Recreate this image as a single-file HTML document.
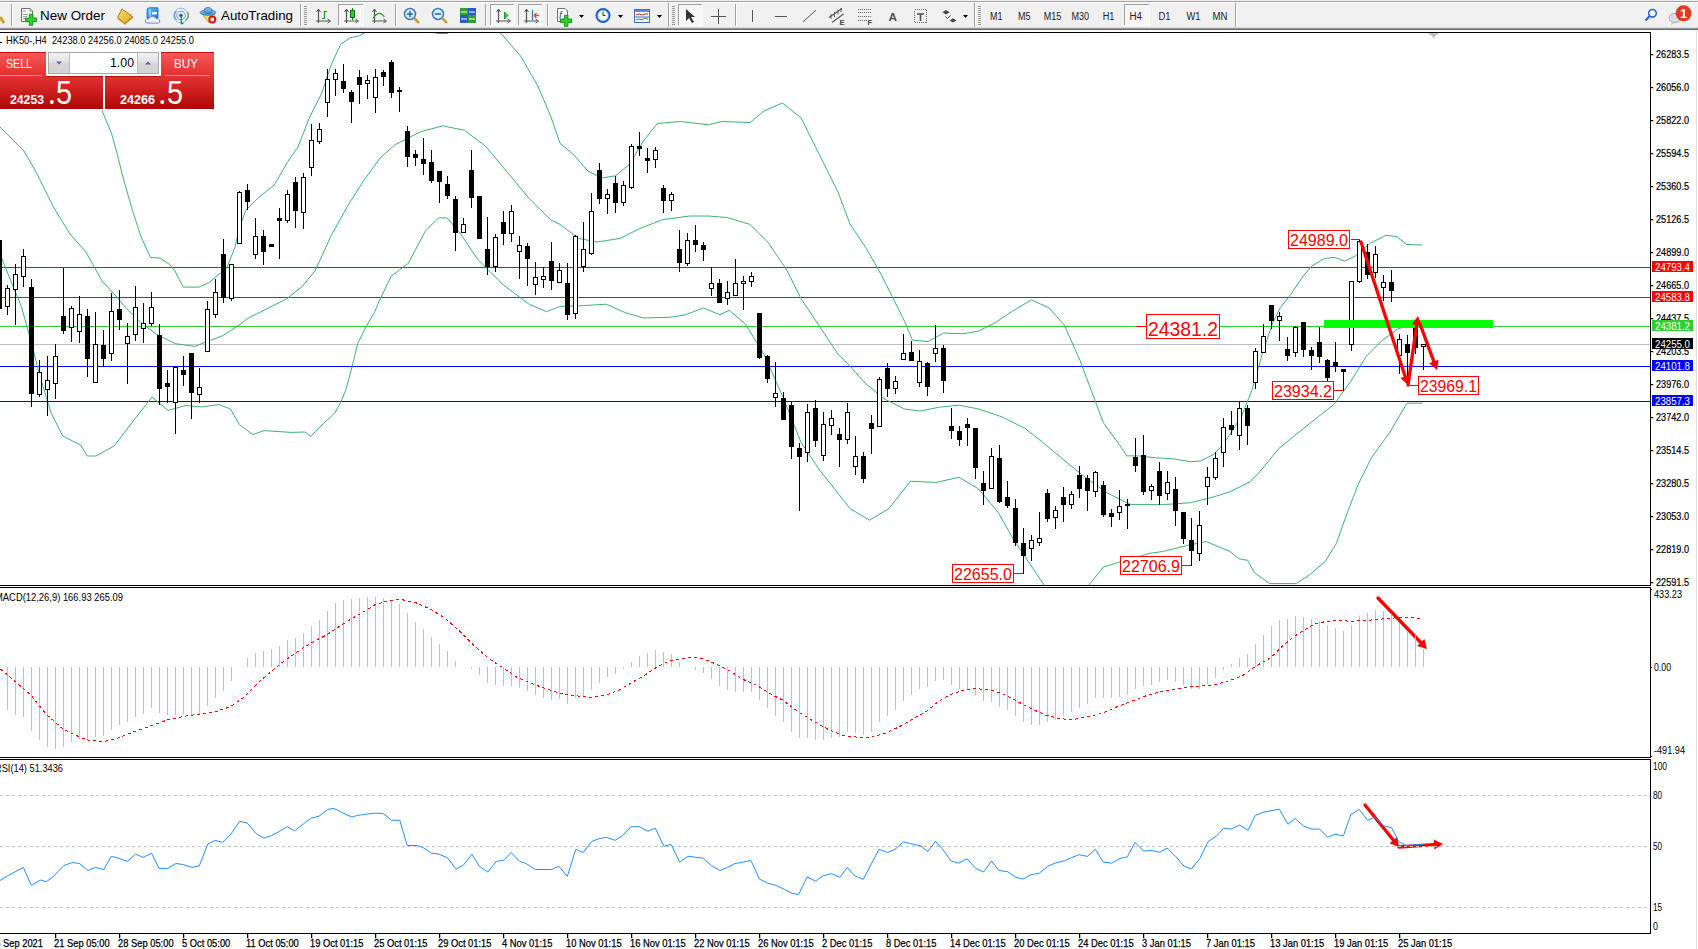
<!DOCTYPE html>
<html><head><meta charset="utf-8"><title>HK50 H4</title>
<style>
html,body{margin:0;padding:0;background:#fff;}
body{width:1698px;height:949px;overflow:hidden;position:relative;font-family:"Liberation Sans",sans-serif;}
svg text{font-family:"Liberation Sans",sans-serif;}
</style></head><body>
<svg id="ch" width="1698" height="949" viewBox="0 0 1698 949" style="position:absolute;left:0;top:0" shape-rendering="crispEdges">
<rect x="0" y="30" width="1698" height="919" fill="#fff"/>
<rect x="1696" y="30" width="1" height="919" fill="#e0e0e0"/>
<g fill="#000">
<rect x="0" y="32" width="1651" height="1"/>
<rect x="1650" y="32" width="1" height="554"/>
<rect x="0" y="585" width="1651" height="1"/>
<rect x="0" y="587" width="1651" height="1"/>
<rect x="1650" y="587" width="1" height="171"/>
<rect x="0" y="757" width="1651" height="1"/>
<rect x="0" y="759" width="1651" height="1"/>
<rect x="1650" y="759" width="1" height="175"/>
<rect x="0" y="933" width="1651" height="1"/>
</g>
<g fill="#000" font-family="Liberation Sans, sans-serif" font-size="10" stroke="#000" stroke-width="0.2">
<rect x="1651" y="54" width="2" height="1"/>
<text x="1656" y="58" textLength="33" lengthAdjust="spacingAndGlyphs">26283.5</text>
<rect x="1651" y="87" width="2" height="1"/>
<text x="1656" y="91" textLength="33" lengthAdjust="spacingAndGlyphs">26056.0</text>
<rect x="1651" y="120" width="2" height="1"/>
<text x="1656" y="124" textLength="33" lengthAdjust="spacingAndGlyphs">25822.0</text>
<rect x="1651" y="153" width="2" height="1"/>
<text x="1656" y="157" textLength="33" lengthAdjust="spacingAndGlyphs">25594.5</text>
<rect x="1651" y="186" width="2" height="1"/>
<text x="1656" y="190" textLength="33" lengthAdjust="spacingAndGlyphs">25360.5</text>
<rect x="1651" y="219" width="2" height="1"/>
<text x="1656" y="223" textLength="33" lengthAdjust="spacingAndGlyphs">25126.5</text>
<rect x="1651" y="252" width="2" height="1"/>
<text x="1656" y="256" textLength="33" lengthAdjust="spacingAndGlyphs">24899.0</text>
<rect x="1651" y="285" width="2" height="1"/>
<text x="1656" y="289" textLength="33" lengthAdjust="spacingAndGlyphs">24665.0</text>
<rect x="1651" y="318" width="2" height="1"/>
<text x="1656" y="322" textLength="33" lengthAdjust="spacingAndGlyphs">24437.5</text>
<rect x="1651" y="351" width="2" height="1"/>
<text x="1656" y="355" textLength="33" lengthAdjust="spacingAndGlyphs">24203.5</text>
<rect x="1651" y="384" width="2" height="1"/>
<text x="1656" y="388" textLength="33" lengthAdjust="spacingAndGlyphs">23976.0</text>
<rect x="1651" y="417" width="2" height="1"/>
<text x="1656" y="421" textLength="33" lengthAdjust="spacingAndGlyphs">23742.0</text>
<rect x="1651" y="450" width="2" height="1"/>
<text x="1656" y="454" textLength="33" lengthAdjust="spacingAndGlyphs">23514.5</text>
<rect x="1651" y="483" width="2" height="1"/>
<text x="1656" y="487" textLength="33" lengthAdjust="spacingAndGlyphs">23280.5</text>
<rect x="1651" y="516" width="2" height="1"/>
<text x="1656" y="520" textLength="33" lengthAdjust="spacingAndGlyphs">23053.0</text>
<rect x="1651" y="549" width="2" height="1"/>
<text x="1656" y="553" textLength="33" lengthAdjust="spacingAndGlyphs">22819.0</text>
<rect x="1651" y="582" width="2" height="1"/>
<text x="1656" y="586" textLength="33" lengthAdjust="spacingAndGlyphs">22591.5</text>
</g>
<rect x="0" y="267" width="1650" height="1" fill="#ff0000"/>
<rect x="0" y="297" width="1650" height="1" fill="#ff0000"/>
<rect x="0" y="326" width="1650" height="1" fill="#32cd32"/>
<rect x="0" y="344" width="1650" height="1" fill="#c0c0c0"/>
<rect x="0" y="366" width="1650" height="1" fill="#0000ff"/>
<rect x="0" y="401" width="1650" height="1" fill="#0000ff"/>
<rect x="1652" y="261" width="41" height="11" fill="#ff0000"/>
<text x="1655" y="271" fill="#fff" font-family="Liberation Sans, sans-serif" font-size="10.5" textLength="35" lengthAdjust="spacingAndGlyphs">24793.4</text>
<rect x="1652" y="291" width="41" height="11" fill="#ff0000"/>
<text x="1655" y="301" fill="#fff" font-family="Liberation Sans, sans-serif" font-size="10.5" textLength="35" lengthAdjust="spacingAndGlyphs">24583.8</text>
<rect x="1652" y="320" width="41" height="11" fill="#32cd32"/>
<text x="1655" y="330" fill="#fff" font-family="Liberation Sans, sans-serif" font-size="10.5" textLength="35" lengthAdjust="spacingAndGlyphs">24381.2</text>
<rect x="1652" y="338" width="41" height="11" fill="#000"/>
<text x="1655" y="348" fill="#fff" font-family="Liberation Sans, sans-serif" font-size="10.5" textLength="35" lengthAdjust="spacingAndGlyphs">24255.0</text>
<rect x="1652" y="360" width="41" height="11" fill="#0000ff"/>
<text x="1655" y="370" fill="#fff" font-family="Liberation Sans, sans-serif" font-size="10.5" textLength="35" lengthAdjust="spacingAndGlyphs">24101.8</text>
<rect x="1652" y="395" width="41" height="11" fill="#0000ff"/>
<text x="1655" y="405" fill="#fff" font-family="Liberation Sans, sans-serif" font-size="10.5" textLength="35" lengthAdjust="spacingAndGlyphs">23857.3</text>
<defs><clipPath id="mc"><rect x="0" y="33" width="1650" height="552"/></clipPath></defs>
<g fill="none" stroke="#3cb371" stroke-width="1" shape-rendering="auto" clip-path="url(#mc)">
<polyline points="102,110.5 111.6,133.7 116.9,152.7 123.2,178 131.6,207.5 141.1,237 150.6,257.6 160,258 169.5,264.4 174.8,270.7 183.2,287.1 199,287.1 209.6,282.3 218,275 226.4,268.6 234.9,247.5 239.5,228 245.8,210.2 258.5,197.6 274.3,185 287,162.8 298,147 309,118.5 321.7,93.2 331.2,64.8 340.7,44.2 350.1,37.9 359.6,35.7 366,31.6 370,30 430,30 436.3,33.5 447,33.5 455,30 495,30 501,33.5 520.6,56 537.9,86 550.8,116.4 560,143.3 573.9,155 587.8,171 601.7,178 615.6,175.8 629.5,164.2 643.4,141 657.4,123.4 680.5,121.5 708.4,124.8 722.3,121.5 750,122.5 764,111 782.5,103 801,117.8 819.6,155 838,192 850,224 865.6,247.3 881.2,274.6 892.9,298 904.6,321.4 912.4,340 928,341.6 943.6,333 963,333.8 978.7,331 994.2,323.3 1013.7,310.4 1031.3,300 1048.8,307.7 1064.4,325.3 1080,360.4 1091.7,391.5 1103.4,422.7 1119,444.2 1126.8,455.9 1138.5,455.9 1155.6,457.8 1171.2,458.6 1190.7,461.7 1200.3,461.1 1213.2,454.7 1223.5,444.4 1241.6,416 1251.9,390.2 1262.3,354 1272.6,323 1280.3,307.6 1290.6,294.7 1301,279.2 1311.3,266.3 1324.2,258.5 1334.5,257.3 1344.8,261.1 1355.2,256 1370.6,243.1 1386.1,235.3 1396.5,236.6 1406.8,244.4 1422.3,245.1"/>
<polyline points="0,127 19,146 24,151 36,172 54,208 70,234 86,252 102,281 116,296 124.8,306.6 140.4,322 156,334 175.4,343.7 195,346.4 206.6,341.7 222,336 237.8,326 249,317.7 268,308.2 286.9,298.7 302.7,286 315.4,270.3 331.2,235.5 347,207 362.8,181.8 380.2,158 395.3,144.5 421.2,131.5 442.8,125.9 464.4,130.2 486,146.6 507.6,172.6 529.2,198.5 550.8,220 560,224.4 578.5,238.4 597,242 620.3,238.4 638.8,229 662,219.8 689.8,216 708.4,216 726.9,217.5 750,224.4 768.6,243 787.2,270.8 801,298.6 819.6,326.4 838,354.3 850,366.2 865.6,383.7 885,399.3 904.6,409 920.2,411 939.7,407.1 959.2,405.2 978.7,409 1002,416.9 1025.4,428.6 1045,444.2 1068.3,463.7 1087.8,479.3 1107.3,493 1130.7,504.6 1163.4,504.6 1190.7,502.7 1214,496.8 1230,491.8 1249.9,481.8 1258.8,473 1278.7,448.6 1296.4,434.2 1318.5,416.5 1334,404.3 1351.7,380 1366.1,356.5 1381.7,340.9 1397.3,329.2 1409,325.3 1422.6,325"/>
<polyline points="0,254 11.7,283 21.4,306.6 31.2,341.7 39,373 50.7,412 62.7,436 80.6,445 87.3,456 96,456 114,446 134,420 152,397 168,410.4 185.8,405.5 201.4,407 219,404.6 230.5,409 239.5,424.8 253,434.6 264,430.6 291,432.4 304.7,432 311,436.3 315.8,431.2 323.7,423.3 334.8,413 341.1,401.2 345.8,390.1 352.2,366.4 357.7,343.5 359.3,340.3 366.4,326.1 374.3,312.6 379.8,300 391,276.3 408.3,263.3 425.5,230.9 438.5,217.9 447.1,217.9 460,233 477.4,259 503.3,284.9 529.2,304.3 546.5,311.7 559.5,306.5 583.2,305.6 606.4,304.2 625,312.5 643.4,318 671.3,317.2 685.2,314.8 703.7,308 720,314.8 729.2,310.2 745.4,324 764,354.3 782.5,396 801,442.3 819.6,470 838,493.3 850,508.5 869.5,520.2 889,508.5 910.4,481.2 935.8,482.4 959.2,477.3 978.7,489 998.1,512.4 1013.7,539.7 1029.3,563 1045,586.5 1087.8,586.5 1103.4,567 1123,561.1 1149.8,553.3 1163.4,551.4 1186.8,545.5 1206.3,541.6 1230,551.5 1238.9,558.8 1247.7,560.3 1254.3,572.5 1269.8,583.6 1296.4,583.6 1309.7,574.7 1325.2,561.5 1336.2,543.8 1347.3,512.8 1358.3,484 1371.6,457.5 1389.3,433.1 1407,403.2 1422.5,403.2"/>
</g>
<g>
<rect x="-1" y="240" width="1" height="69" fill="#000"/>
<rect x="-3" y="240" width="5" height="69" fill="#000"/>
<rect x="7" y="285" width="1" height="30" fill="#000"/>
<rect x="5" y="288" width="5" height="19" fill="#000"/>
<rect x="6" y="289" width="3" height="17" fill="#fff"/>
<rect x="15" y="264" width="1" height="61" fill="#000"/>
<rect x="13" y="274" width="5" height="16" fill="#000"/>
<rect x="14" y="275" width="3" height="14" fill="#fff"/>
<rect x="23" y="249" width="1" height="38" fill="#000"/>
<rect x="21" y="256" width="5" height="21" fill="#000"/>
<rect x="22" y="257" width="3" height="19" fill="#fff"/>
<rect x="31" y="279" width="1" height="128" fill="#000"/>
<rect x="29" y="287" width="5" height="107" fill="#000"/>
<rect x="39" y="360" width="1" height="37" fill="#000"/>
<rect x="37" y="372" width="5" height="23" fill="#000"/>
<rect x="38" y="373" width="3" height="21" fill="#fff"/>
<rect x="47" y="356" width="1" height="60" fill="#000"/>
<rect x="45" y="380" width="5" height="10" fill="#000"/>
<rect x="46" y="381" width="3" height="8" fill="#fff"/>
<rect x="55" y="344" width="1" height="55" fill="#000"/>
<rect x="53" y="356" width="5" height="28" fill="#000"/>
<rect x="54" y="357" width="3" height="26" fill="#fff"/>
<rect x="63" y="268" width="1" height="66" fill="#000"/>
<rect x="61" y="316" width="5" height="15" fill="#000"/>
<rect x="71" y="306" width="1" height="36" fill="#000"/>
<rect x="69" y="308" width="5" height="20" fill="#000"/>
<rect x="70" y="309" width="3" height="18" fill="#fff"/>
<rect x="79" y="296" width="1" height="47" fill="#000"/>
<rect x="77" y="314" width="5" height="18" fill="#000"/>
<rect x="78" y="315" width="3" height="16" fill="#fff"/>
<rect x="87" y="309" width="1" height="68" fill="#000"/>
<rect x="85" y="316" width="5" height="43" fill="#000"/>
<rect x="95" y="312" width="1" height="71" fill="#000"/>
<rect x="93" y="344" width="5" height="39" fill="#000"/>
<rect x="94" y="345" width="3" height="37" fill="#fff"/>
<rect x="103" y="330" width="1" height="37" fill="#000"/>
<rect x="101" y="345" width="5" height="14" fill="#000"/>
<rect x="111" y="293" width="1" height="68" fill="#000"/>
<rect x="109" y="311" width="5" height="43" fill="#000"/>
<rect x="110" y="312" width="3" height="41" fill="#fff"/>
<rect x="119" y="290" width="1" height="40" fill="#000"/>
<rect x="117" y="309" width="5" height="11" fill="#000"/>
<rect x="127" y="323" width="1" height="61" fill="#000"/>
<rect x="125" y="336" width="5" height="8" fill="#000"/>
<rect x="126" y="337" width="3" height="6" fill="#fff"/>
<rect x="135" y="286" width="1" height="55" fill="#000"/>
<rect x="133" y="307" width="5" height="28" fill="#000"/>
<rect x="134" y="308" width="3" height="26" fill="#fff"/>
<rect x="143" y="303" width="1" height="40" fill="#000"/>
<rect x="141" y="323" width="5" height="6" fill="#000"/>
<rect x="142" y="324" width="3" height="4" fill="#fff"/>
<rect x="151" y="292" width="1" height="34" fill="#000"/>
<rect x="149" y="307" width="5" height="17" fill="#000"/>
<rect x="150" y="308" width="3" height="15" fill="#fff"/>
<rect x="159" y="324" width="1" height="81" fill="#000"/>
<rect x="157" y="335" width="5" height="54" fill="#000"/>
<rect x="167" y="370" width="1" height="33" fill="#000"/>
<rect x="165" y="383" width="5" height="4" fill="#000"/>
<rect x="175" y="366" width="1" height="68" fill="#000"/>
<rect x="173" y="367" width="5" height="36" fill="#000"/>
<rect x="174" y="368" width="3" height="34" fill="#fff"/>
<rect x="183" y="356" width="1" height="30" fill="#000"/>
<rect x="181" y="370" width="5" height="5" fill="#000"/>
<rect x="191" y="353" width="1" height="66" fill="#000"/>
<rect x="189" y="353" width="5" height="40" fill="#000"/>
<rect x="199" y="368" width="1" height="35" fill="#000"/>
<rect x="197" y="387" width="5" height="8" fill="#000"/>
<rect x="198" y="388" width="3" height="6" fill="#fff"/>
<rect x="207" y="301" width="1" height="51" fill="#000"/>
<rect x="205" y="309" width="5" height="43" fill="#000"/>
<rect x="206" y="310" width="3" height="41" fill="#fff"/>
<rect x="215" y="279" width="1" height="39" fill="#000"/>
<rect x="213" y="292" width="5" height="23" fill="#000"/>
<rect x="214" y="293" width="3" height="21" fill="#fff"/>
<rect x="223" y="239" width="1" height="64" fill="#000"/>
<rect x="221" y="254" width="5" height="44" fill="#000"/>
<rect x="231" y="264" width="1" height="37" fill="#000"/>
<rect x="229" y="264" width="5" height="35" fill="#000"/>
<rect x="230" y="265" width="3" height="33" fill="#fff"/>
<rect x="239" y="191" width="1" height="53" fill="#000"/>
<rect x="237" y="192" width="5" height="52" fill="#000"/>
<rect x="238" y="193" width="3" height="50" fill="#fff"/>
<rect x="247" y="184" width="1" height="26" fill="#000"/>
<rect x="245" y="190" width="5" height="12" fill="#000"/>
<rect x="255" y="218" width="1" height="41" fill="#000"/>
<rect x="253" y="236" width="5" height="19" fill="#000"/>
<rect x="254" y="237" width="3" height="17" fill="#fff"/>
<rect x="263" y="230" width="1" height="35" fill="#000"/>
<rect x="261" y="236" width="5" height="16" fill="#000"/>
<rect x="271" y="244" width="1" height="3" fill="#000"/>
<rect x="269" y="244" width="5" height="3" fill="#000"/>
<rect x="279" y="208" width="1" height="51" fill="#000"/>
<rect x="277" y="218" width="5" height="3" fill="#000"/>
<rect x="287" y="190" width="1" height="33" fill="#000"/>
<rect x="285" y="194" width="5" height="27" fill="#000"/>
<rect x="286" y="195" width="3" height="25" fill="#fff"/>
<rect x="295" y="177" width="1" height="51" fill="#000"/>
<rect x="293" y="182" width="5" height="29" fill="#000"/>
<rect x="303" y="173" width="1" height="56" fill="#000"/>
<rect x="301" y="177" width="5" height="36" fill="#000"/>
<rect x="302" y="178" width="3" height="34" fill="#fff"/>
<rect x="311" y="124" width="1" height="52" fill="#000"/>
<rect x="309" y="140" width="5" height="28" fill="#000"/>
<rect x="310" y="141" width="3" height="26" fill="#fff"/>
<rect x="319" y="123" width="1" height="21" fill="#000"/>
<rect x="317" y="129" width="5" height="13" fill="#000"/>
<rect x="318" y="130" width="3" height="11" fill="#fff"/>
<rect x="327" y="69" width="1" height="48" fill="#000"/>
<rect x="325" y="79" width="5" height="24" fill="#000"/>
<rect x="326" y="80" width="3" height="22" fill="#fff"/>
<rect x="335" y="69" width="1" height="27" fill="#000"/>
<rect x="333" y="73" width="5" height="7" fill="#000"/>
<rect x="334" y="74" width="3" height="5" fill="#fff"/>
<rect x="343" y="64" width="1" height="29" fill="#000"/>
<rect x="341" y="81" width="5" height="8" fill="#000"/>
<rect x="351" y="90" width="1" height="33" fill="#000"/>
<rect x="349" y="92" width="5" height="10" fill="#000"/>
<rect x="359" y="70" width="1" height="34" fill="#000"/>
<rect x="357" y="77" width="5" height="8" fill="#000"/>
<rect x="367" y="75" width="1" height="24" fill="#000"/>
<rect x="365" y="80" width="5" height="4" fill="#000"/>
<rect x="366" y="81" width="3" height="2" fill="#fff"/>
<rect x="375" y="69" width="1" height="44" fill="#000"/>
<rect x="373" y="77" width="5" height="21" fill="#000"/>
<rect x="374" y="78" width="3" height="19" fill="#fff"/>
<rect x="383" y="70" width="1" height="16" fill="#000"/>
<rect x="381" y="72" width="5" height="5" fill="#000"/>
<rect x="391" y="60" width="1" height="38" fill="#000"/>
<rect x="389" y="62" width="5" height="31" fill="#000"/>
<rect x="399" y="87" width="1" height="25" fill="#000"/>
<rect x="397" y="90" width="5" height="2" fill="#000"/>
<rect x="407" y="126" width="1" height="41" fill="#000"/>
<rect x="405" y="131" width="5" height="26" fill="#000"/>
<rect x="415" y="150" width="1" height="16" fill="#000"/>
<rect x="413" y="154" width="5" height="4" fill="#000"/>
<rect x="423" y="138" width="1" height="37" fill="#000"/>
<rect x="421" y="159" width="5" height="5" fill="#000"/>
<rect x="431" y="150" width="1" height="33" fill="#000"/>
<rect x="429" y="162" width="5" height="19" fill="#000"/>
<rect x="439" y="171" width="1" height="32" fill="#000"/>
<rect x="437" y="171" width="5" height="11" fill="#000"/>
<rect x="447" y="176" width="1" height="23" fill="#000"/>
<rect x="445" y="184" width="5" height="12" fill="#000"/>
<rect x="455" y="196" width="1" height="55" fill="#000"/>
<rect x="453" y="199" width="5" height="34" fill="#000"/>
<rect x="463" y="218" width="1" height="15" fill="#000"/>
<rect x="461" y="224" width="5" height="9" fill="#000"/>
<rect x="462" y="225" width="3" height="7" fill="#fff"/>
<rect x="471" y="150" width="1" height="58" fill="#000"/>
<rect x="469" y="170" width="5" height="28" fill="#000"/>
<rect x="479" y="196" width="1" height="43" fill="#000"/>
<rect x="477" y="196" width="5" height="43" fill="#000"/>
<rect x="487" y="217" width="1" height="58" fill="#000"/>
<rect x="485" y="249" width="5" height="18" fill="#000"/>
<rect x="495" y="234" width="1" height="38" fill="#000"/>
<rect x="493" y="237" width="5" height="30" fill="#000"/>
<rect x="494" y="238" width="3" height="28" fill="#fff"/>
<rect x="503" y="211" width="1" height="34" fill="#000"/>
<rect x="501" y="222" width="5" height="12" fill="#000"/>
<rect x="511" y="205" width="1" height="37" fill="#000"/>
<rect x="509" y="211" width="5" height="23" fill="#000"/>
<rect x="510" y="212" width="3" height="21" fill="#fff"/>
<rect x="519" y="236" width="1" height="43" fill="#000"/>
<rect x="517" y="245" width="5" height="7" fill="#000"/>
<rect x="518" y="246" width="3" height="5" fill="#fff"/>
<rect x="527" y="243" width="1" height="43" fill="#000"/>
<rect x="525" y="246" width="5" height="13" fill="#000"/>
<rect x="535" y="262" width="1" height="33" fill="#000"/>
<rect x="533" y="277" width="5" height="8" fill="#000"/>
<rect x="534" y="278" width="3" height="6" fill="#fff"/>
<rect x="543" y="267" width="1" height="21" fill="#000"/>
<rect x="541" y="276" width="5" height="4" fill="#000"/>
<rect x="542" y="277" width="3" height="2" fill="#fff"/>
<rect x="551" y="242" width="1" height="48" fill="#000"/>
<rect x="549" y="261" width="5" height="20" fill="#000"/>
<rect x="559" y="263" width="1" height="20" fill="#000"/>
<rect x="557" y="270" width="5" height="13" fill="#000"/>
<rect x="558" y="271" width="3" height="11" fill="#fff"/>
<rect x="567" y="263" width="1" height="57" fill="#000"/>
<rect x="565" y="283" width="5" height="32" fill="#000"/>
<rect x="575" y="235" width="1" height="84" fill="#000"/>
<rect x="573" y="236" width="5" height="78" fill="#000"/>
<rect x="574" y="237" width="3" height="76" fill="#fff"/>
<rect x="583" y="222" width="1" height="50" fill="#000"/>
<rect x="581" y="249" width="5" height="18" fill="#000"/>
<rect x="582" y="250" width="3" height="16" fill="#fff"/>
<rect x="591" y="193" width="1" height="62" fill="#000"/>
<rect x="589" y="211" width="5" height="43" fill="#000"/>
<rect x="590" y="212" width="3" height="41" fill="#fff"/>
<rect x="599" y="163" width="1" height="41" fill="#000"/>
<rect x="597" y="170" width="5" height="29" fill="#000"/>
<rect x="607" y="189" width="1" height="25" fill="#000"/>
<rect x="605" y="194" width="5" height="5" fill="#000"/>
<rect x="606" y="195" width="3" height="3" fill="#fff"/>
<rect x="615" y="176" width="1" height="37" fill="#000"/>
<rect x="613" y="183" width="5" height="20" fill="#000"/>
<rect x="623" y="181" width="1" height="25" fill="#000"/>
<rect x="621" y="185" width="5" height="18" fill="#000"/>
<rect x="622" y="186" width="3" height="16" fill="#fff"/>
<rect x="631" y="144" width="1" height="45" fill="#000"/>
<rect x="629" y="146" width="5" height="42" fill="#000"/>
<rect x="630" y="147" width="3" height="40" fill="#fff"/>
<rect x="639" y="132" width="1" height="24" fill="#000"/>
<rect x="637" y="146" width="5" height="3" fill="#000"/>
<rect x="647" y="148" width="1" height="25" fill="#000"/>
<rect x="645" y="158" width="5" height="3" fill="#000"/>
<rect x="655" y="147" width="1" height="21" fill="#000"/>
<rect x="653" y="150" width="5" height="10" fill="#000"/>
<rect x="654" y="151" width="3" height="8" fill="#fff"/>
<rect x="663" y="185" width="1" height="28" fill="#000"/>
<rect x="661" y="188" width="5" height="13" fill="#000"/>
<rect x="671" y="192" width="1" height="19" fill="#000"/>
<rect x="669" y="194" width="5" height="7" fill="#000"/>
<rect x="670" y="195" width="3" height="5" fill="#fff"/>
<rect x="679" y="230" width="1" height="42" fill="#000"/>
<rect x="677" y="249" width="5" height="14" fill="#000"/>
<rect x="687" y="233" width="1" height="33" fill="#000"/>
<rect x="685" y="240" width="5" height="24" fill="#000"/>
<rect x="686" y="241" width="3" height="22" fill="#fff"/>
<rect x="695" y="225" width="1" height="27" fill="#000"/>
<rect x="693" y="240" width="5" height="5" fill="#000"/>
<rect x="703" y="242" width="1" height="19" fill="#000"/>
<rect x="701" y="245" width="5" height="5" fill="#000"/>
<rect x="711" y="267" width="1" height="29" fill="#000"/>
<rect x="709" y="283" width="5" height="6" fill="#000"/>
<rect x="710" y="284" width="3" height="4" fill="#fff"/>
<rect x="719" y="279" width="1" height="24" fill="#000"/>
<rect x="717" y="283" width="5" height="20" fill="#000"/>
<rect x="727" y="281" width="1" height="24" fill="#000"/>
<rect x="725" y="292" width="5" height="7" fill="#000"/>
<rect x="726" y="293" width="3" height="5" fill="#fff"/>
<rect x="735" y="259" width="1" height="37" fill="#000"/>
<rect x="733" y="283" width="5" height="13" fill="#000"/>
<rect x="734" y="284" width="3" height="11" fill="#fff"/>
<rect x="743" y="276" width="1" height="34" fill="#000"/>
<rect x="741" y="281" width="5" height="3" fill="#000"/>
<rect x="742" y="282" width="3" height="1" fill="#fff"/>
<rect x="751" y="272" width="1" height="15" fill="#000"/>
<rect x="749" y="276" width="5" height="6" fill="#000"/>
<rect x="750" y="277" width="3" height="4" fill="#fff"/>
<rect x="759" y="313" width="1" height="46" fill="#000"/>
<rect x="757" y="313" width="5" height="45" fill="#000"/>
<rect x="767" y="355" width="1" height="28" fill="#000"/>
<rect x="765" y="356" width="5" height="23" fill="#000"/>
<rect x="775" y="362" width="1" height="45" fill="#000"/>
<rect x="773" y="393" width="5" height="5" fill="#000"/>
<rect x="774" y="394" width="3" height="3" fill="#fff"/>
<rect x="783" y="392" width="1" height="28" fill="#000"/>
<rect x="781" y="398" width="5" height="22" fill="#000"/>
<rect x="791" y="402" width="1" height="57" fill="#000"/>
<rect x="789" y="405" width="5" height="42" fill="#000"/>
<rect x="799" y="443" width="1" height="68" fill="#000"/>
<rect x="797" y="448" width="5" height="9" fill="#000"/>
<rect x="807" y="404" width="1" height="58" fill="#000"/>
<rect x="805" y="412" width="5" height="41" fill="#000"/>
<rect x="806" y="413" width="3" height="39" fill="#fff"/>
<rect x="815" y="400" width="1" height="47" fill="#000"/>
<rect x="813" y="408" width="5" height="33" fill="#000"/>
<rect x="823" y="412" width="1" height="49" fill="#000"/>
<rect x="821" y="424" width="5" height="32" fill="#000"/>
<rect x="822" y="425" width="3" height="30" fill="#fff"/>
<rect x="831" y="410" width="1" height="25" fill="#000"/>
<rect x="829" y="418" width="5" height="8" fill="#000"/>
<rect x="830" y="419" width="3" height="6" fill="#fff"/>
<rect x="839" y="428" width="1" height="39" fill="#000"/>
<rect x="837" y="434" width="5" height="6" fill="#000"/>
<rect x="847" y="403" width="1" height="41" fill="#000"/>
<rect x="845" y="412" width="5" height="28" fill="#000"/>
<rect x="846" y="413" width="3" height="26" fill="#fff"/>
<rect x="855" y="436" width="1" height="39" fill="#000"/>
<rect x="853" y="456" width="5" height="11" fill="#000"/>
<rect x="854" y="457" width="3" height="9" fill="#fff"/>
<rect x="863" y="452" width="1" height="31" fill="#000"/>
<rect x="861" y="456" width="5" height="23" fill="#000"/>
<rect x="871" y="415" width="1" height="39" fill="#000"/>
<rect x="869" y="423" width="5" height="6" fill="#000"/>
<rect x="879" y="377" width="1" height="50" fill="#000"/>
<rect x="877" y="379" width="5" height="48" fill="#000"/>
<rect x="878" y="380" width="3" height="46" fill="#fff"/>
<rect x="887" y="363" width="1" height="34" fill="#000"/>
<rect x="885" y="368" width="5" height="21" fill="#000"/>
<rect x="895" y="376" width="1" height="18" fill="#000"/>
<rect x="893" y="381" width="5" height="8" fill="#000"/>
<rect x="894" y="382" width="3" height="6" fill="#fff"/>
<rect x="903" y="334" width="1" height="26" fill="#000"/>
<rect x="901" y="353" width="5" height="7" fill="#000"/>
<rect x="902" y="354" width="3" height="5" fill="#fff"/>
<rect x="911" y="341" width="1" height="20" fill="#000"/>
<rect x="909" y="352" width="5" height="9" fill="#000"/>
<rect x="919" y="350" width="1" height="37" fill="#000"/>
<rect x="917" y="361" width="5" height="22" fill="#000"/>
<rect x="918" y="362" width="3" height="20" fill="#fff"/>
<rect x="927" y="362" width="1" height="34" fill="#000"/>
<rect x="925" y="363" width="5" height="24" fill="#000"/>
<rect x="935" y="325" width="1" height="37" fill="#000"/>
<rect x="933" y="348" width="5" height="6" fill="#000"/>
<rect x="934" y="349" width="3" height="4" fill="#fff"/>
<rect x="943" y="345" width="1" height="48" fill="#000"/>
<rect x="941" y="348" width="5" height="33" fill="#000"/>
<rect x="951" y="408" width="1" height="31" fill="#000"/>
<rect x="949" y="426" width="5" height="5" fill="#000"/>
<rect x="959" y="426" width="1" height="20" fill="#000"/>
<rect x="957" y="431" width="5" height="9" fill="#000"/>
<rect x="967" y="418" width="1" height="28" fill="#000"/>
<rect x="965" y="424" width="5" height="4" fill="#000"/>
<rect x="975" y="428" width="1" height="51" fill="#000"/>
<rect x="973" y="428" width="5" height="40" fill="#000"/>
<rect x="983" y="471" width="1" height="34" fill="#000"/>
<rect x="981" y="483" width="5" height="8" fill="#000"/>
<rect x="991" y="448" width="1" height="41" fill="#000"/>
<rect x="989" y="456" width="5" height="33" fill="#000"/>
<rect x="990" y="457" width="3" height="31" fill="#fff"/>
<rect x="999" y="445" width="1" height="58" fill="#000"/>
<rect x="997" y="458" width="5" height="44" fill="#000"/>
<rect x="1007" y="481" width="1" height="27" fill="#000"/>
<rect x="1005" y="497" width="5" height="9" fill="#000"/>
<rect x="1015" y="499" width="1" height="47" fill="#000"/>
<rect x="1013" y="508" width="5" height="35" fill="#000"/>
<rect x="1023" y="528" width="1" height="46" fill="#000"/>
<rect x="1021" y="543" width="5" height="13" fill="#000"/>
<rect x="1031" y="535" width="1" height="26" fill="#000"/>
<rect x="1029" y="540" width="5" height="9" fill="#000"/>
<rect x="1030" y="541" width="3" height="7" fill="#fff"/>
<rect x="1039" y="512" width="1" height="34" fill="#000"/>
<rect x="1037" y="538" width="5" height="5" fill="#000"/>
<rect x="1038" y="539" width="3" height="3" fill="#fff"/>
<rect x="1047" y="489" width="1" height="33" fill="#000"/>
<rect x="1045" y="493" width="5" height="26" fill="#000"/>
<rect x="1055" y="506" width="1" height="23" fill="#000"/>
<rect x="1053" y="510" width="5" height="8" fill="#000"/>
<rect x="1054" y="511" width="3" height="6" fill="#fff"/>
<rect x="1063" y="487" width="1" height="35" fill="#000"/>
<rect x="1061" y="497" width="5" height="8" fill="#000"/>
<rect x="1071" y="491" width="1" height="18" fill="#000"/>
<rect x="1069" y="494" width="5" height="11" fill="#000"/>
<rect x="1070" y="495" width="3" height="9" fill="#fff"/>
<rect x="1079" y="466" width="1" height="32" fill="#000"/>
<rect x="1077" y="475" width="5" height="14" fill="#000"/>
<rect x="1087" y="475" width="1" height="36" fill="#000"/>
<rect x="1085" y="478" width="5" height="13" fill="#000"/>
<rect x="1095" y="471" width="1" height="26" fill="#000"/>
<rect x="1093" y="472" width="5" height="20" fill="#000"/>
<rect x="1094" y="473" width="3" height="18" fill="#fff"/>
<rect x="1103" y="481" width="1" height="36" fill="#000"/>
<rect x="1101" y="485" width="5" height="30" fill="#000"/>
<rect x="1111" y="509" width="1" height="18" fill="#000"/>
<rect x="1109" y="513" width="5" height="4" fill="#000"/>
<rect x="1119" y="490" width="1" height="30" fill="#000"/>
<rect x="1117" y="506" width="5" height="7" fill="#000"/>
<rect x="1118" y="507" width="3" height="5" fill="#fff"/>
<rect x="1127" y="499" width="1" height="30" fill="#000"/>
<rect x="1125" y="504" width="5" height="2" fill="#000"/>
<rect x="1135" y="438" width="1" height="34" fill="#000"/>
<rect x="1133" y="457" width="5" height="9" fill="#000"/>
<rect x="1143" y="435" width="1" height="60" fill="#000"/>
<rect x="1141" y="455" width="5" height="37" fill="#000"/>
<rect x="1151" y="484" width="1" height="16" fill="#000"/>
<rect x="1149" y="486" width="5" height="5" fill="#000"/>
<rect x="1150" y="487" width="3" height="3" fill="#fff"/>
<rect x="1159" y="462" width="1" height="43" fill="#000"/>
<rect x="1157" y="471" width="5" height="25" fill="#000"/>
<rect x="1167" y="471" width="1" height="29" fill="#000"/>
<rect x="1165" y="482" width="5" height="12" fill="#000"/>
<rect x="1166" y="483" width="3" height="10" fill="#fff"/>
<rect x="1175" y="477" width="1" height="49" fill="#000"/>
<rect x="1173" y="489" width="5" height="22" fill="#000"/>
<rect x="1183" y="512" width="1" height="32" fill="#000"/>
<rect x="1181" y="512" width="5" height="27" fill="#000"/>
<rect x="1191" y="518" width="1" height="48" fill="#000"/>
<rect x="1189" y="540" width="5" height="11" fill="#000"/>
<rect x="1199" y="511" width="1" height="50" fill="#000"/>
<rect x="1197" y="525" width="5" height="29" fill="#000"/>
<rect x="1198" y="526" width="3" height="27" fill="#fff"/>
<rect x="1207" y="467" width="1" height="38" fill="#000"/>
<rect x="1205" y="477" width="5" height="10" fill="#000"/>
<rect x="1206" y="478" width="3" height="8" fill="#fff"/>
<rect x="1215" y="452" width="1" height="28" fill="#000"/>
<rect x="1213" y="458" width="5" height="20" fill="#000"/>
<rect x="1214" y="459" width="3" height="18" fill="#fff"/>
<rect x="1223" y="418" width="1" height="49" fill="#000"/>
<rect x="1221" y="427" width="5" height="26" fill="#000"/>
<rect x="1222" y="428" width="3" height="24" fill="#fff"/>
<rect x="1231" y="411" width="1" height="24" fill="#000"/>
<rect x="1229" y="425" width="5" height="5" fill="#000"/>
<rect x="1239" y="401" width="1" height="49" fill="#000"/>
<rect x="1237" y="408" width="5" height="28" fill="#000"/>
<rect x="1238" y="409" width="3" height="26" fill="#fff"/>
<rect x="1247" y="405" width="1" height="40" fill="#000"/>
<rect x="1245" y="408" width="5" height="18" fill="#000"/>
<rect x="1255" y="348" width="1" height="41" fill="#000"/>
<rect x="1253" y="351" width="5" height="32" fill="#000"/>
<rect x="1254" y="352" width="3" height="30" fill="#fff"/>
<rect x="1263" y="324" width="1" height="29" fill="#000"/>
<rect x="1261" y="336" width="5" height="17" fill="#000"/>
<rect x="1262" y="337" width="3" height="15" fill="#fff"/>
<rect x="1271" y="305" width="1" height="24" fill="#000"/>
<rect x="1269" y="305" width="5" height="16" fill="#000"/>
<rect x="1279" y="312" width="1" height="29" fill="#000"/>
<rect x="1277" y="316" width="5" height="5" fill="#000"/>
<rect x="1278" y="317" width="3" height="3" fill="#fff"/>
<rect x="1287" y="337" width="1" height="24" fill="#000"/>
<rect x="1285" y="349" width="5" height="7" fill="#000"/>
<rect x="1295" y="326" width="1" height="31" fill="#000"/>
<rect x="1293" y="327" width="5" height="26" fill="#000"/>
<rect x="1294" y="328" width="3" height="24" fill="#fff"/>
<rect x="1303" y="322" width="1" height="35" fill="#000"/>
<rect x="1301" y="322" width="5" height="28" fill="#000"/>
<rect x="1311" y="347" width="1" height="23" fill="#000"/>
<rect x="1309" y="350" width="5" height="6" fill="#000"/>
<rect x="1319" y="327" width="1" height="36" fill="#000"/>
<rect x="1317" y="342" width="5" height="15" fill="#000"/>
<rect x="1327" y="359" width="1" height="22" fill="#000"/>
<rect x="1325" y="360" width="5" height="18" fill="#000"/>
<rect x="1335" y="342" width="1" height="30" fill="#000"/>
<rect x="1333" y="362" width="5" height="5" fill="#000"/>
<rect x="1343" y="369" width="1" height="22" fill="#000"/>
<rect x="1341" y="369" width="5" height="3" fill="#000"/>
<rect x="1351" y="281" width="1" height="70" fill="#000"/>
<rect x="1349" y="281" width="5" height="64" fill="#000"/>
<rect x="1350" y="282" width="3" height="62" fill="#fff"/>
<rect x="1359" y="239" width="1" height="44" fill="#000"/>
<rect x="1357" y="241" width="5" height="41" fill="#000"/>
<rect x="1358" y="242" width="3" height="39" fill="#fff"/>
<rect x="1367" y="244" width="1" height="35" fill="#000"/>
<rect x="1365" y="252" width="5" height="23" fill="#000"/>
<rect x="1375" y="246" width="1" height="32" fill="#000"/>
<rect x="1373" y="254" width="5" height="19" fill="#000"/>
<rect x="1374" y="255" width="3" height="17" fill="#fff"/>
<rect x="1383" y="275" width="1" height="26" fill="#000"/>
<rect x="1381" y="282" width="5" height="6" fill="#000"/>
<rect x="1382" y="283" width="3" height="4" fill="#fff"/>
<rect x="1391" y="270" width="1" height="32" fill="#000"/>
<rect x="1389" y="282" width="5" height="9" fill="#000"/>
<rect x="1399" y="334" width="1" height="40" fill="#000"/>
<rect x="1397" y="339" width="5" height="17" fill="#000"/>
<rect x="1398" y="340" width="3" height="15" fill="#fff"/>
<rect x="1407" y="335" width="1" height="50" fill="#000"/>
<rect x="1405" y="344" width="5" height="9" fill="#000"/>
<rect x="1415" y="328" width="1" height="26" fill="#000"/>
<rect x="1413" y="328" width="5" height="20" fill="#000"/>
<rect x="1423" y="344" width="1" height="26" fill="#000"/>
<rect x="1421" y="344" width="5" height="3" fill="#000"/>
<rect x="1422" y="345" width="3" height="1" fill="#fff"/>
</g>
<rect x="1324" y="320" width="169" height="8" fill="#00ff00"/>
<rect x="1288.5" y="230.5" width="61" height="18" fill="#fff" stroke="#ff0000" stroke-width="1"/>
<polyline points="1350.5,239.5 1359.5,239.5" fill="none" stroke="#ff0000" stroke-width="1"/>
<text x="1319.0" y="246" text-anchor="middle" fill="#ff0000" font-family="Liberation Sans, sans-serif" font-size="16.5" textLength="58" lengthAdjust="spacingAndGlyphs">24989.0</text>
<rect x="1146.5" y="314.5" width="73" height="24" fill="#fff" stroke="#ff0000" stroke-width="1"/>
<polyline points="1136,326.5 1146,326.5" fill="none" stroke="#ff0000" stroke-width="1"/>
<text x="1183.0" y="336" text-anchor="middle" fill="#ff0000" font-family="Liberation Sans, sans-serif" font-size="21" textLength="70" lengthAdjust="spacingAndGlyphs">24381.2</text>
<rect x="1272.5" y="381.5" width="61" height="18" fill="#fff" stroke="#ff0000" stroke-width="1"/>
<polyline points="1334,390.5 1343,390.5" fill="none" stroke="#ff0000" stroke-width="1"/>
<text x="1303.0" y="397" text-anchor="middle" fill="#ff0000" font-family="Liberation Sans, sans-serif" font-size="16.5" textLength="58" lengthAdjust="spacingAndGlyphs">23934.2</text>
<rect x="1418.5" y="376.5" width="60" height="18" fill="#fff" stroke="#ff0000" stroke-width="1"/>
<polyline points="1409,385.5 1418,385.5" fill="none" stroke="#ff0000" stroke-width="1"/>
<text x="1448.5" y="392" text-anchor="middle" fill="#ff0000" font-family="Liberation Sans, sans-serif" font-size="16.5" textLength="57" lengthAdjust="spacingAndGlyphs">23969.1</text>
<rect x="952.5" y="564.5" width="61" height="18" fill="#fff" stroke="#ff0000" stroke-width="1"/>
<polyline points="1014,573.5 1023,573.5" fill="none" stroke="#ff0000" stroke-width="1"/>
<text x="983.0" y="580" text-anchor="middle" fill="#ff0000" font-family="Liberation Sans, sans-serif" font-size="16.5" textLength="58" lengthAdjust="spacingAndGlyphs">22655.0</text>
<rect x="1120.5" y="556.5" width="61" height="18" fill="#fff" stroke="#ff0000" stroke-width="1"/>
<polyline points="1182,565.5 1191,565.5" fill="none" stroke="#ff0000" stroke-width="1"/>
<text x="1151.0" y="572" text-anchor="middle" fill="#ff0000" font-family="Liberation Sans, sans-serif" font-size="16.5" textLength="58" lengthAdjust="spacingAndGlyphs">22706.9</text>
<g shape-rendering="auto">
<line x1="1361" y1="242" x2="1405.2" y2="376.4" stroke="#ff0000" stroke-width="3.3" stroke-linecap="round"/>
<polygon points="1408,385 1400.4,378 1409.9,374.9" fill="#ff0000"/>
<line x1="1408" y1="385" x2="1416.7" y2="324.9" stroke="#ff0000" stroke-width="3.3" stroke-linecap="round"/>
<polygon points="1418,316 1421.7,325.6 1411.8,324.2" fill="#ff0000"/>
<line x1="1420" y1="324" x2="1433.9" y2="361.6" stroke="#ff0000" stroke-width="3.3" stroke-linecap="round"/>
<polygon points="1437,370 1429.2,363.3 1438.6,359.8" fill="#ff0000"/>
<line x1="1378" y1="598" x2="1420.8" y2="642.5" stroke="#ff0000" stroke-width="3.3" stroke-linecap="round"/>
<polygon points="1427,649 1417.2,646 1424.4,639" fill="#ff0000"/>
<line x1="1365" y1="805" x2="1393.3" y2="840" stroke="#ff0000" stroke-width="3.3" stroke-linecap="round"/>
<polygon points="1399,847 1389.5,843.2 1397.2,836.9" fill="#ff0000"/>
<line x1="1399" y1="847" x2="1434" y2="844.6" stroke="#ff0000" stroke-width="3.3" stroke-linecap="round"/>
<polygon points="1443,844 1434.4,849.6 1433.7,839.6" fill="#ff0000"/>
</g>
<text xml:space="preserve" x="6" y="44" font-family="Liberation Sans, sans-serif" font-size="10.5" fill="#000" textLength="188" lengthAdjust="spacingAndGlyphs">HK50-,H4  24238.0 24256.0 24085.0 24255.0</text>
<rect x="0" y="42" width="2" height="1" fill="#000"/>
<polygon points="1429,33 1438,33 1433.5,38" fill="#c0c0c0"/>
<g fill="#c0c0c0">
<rect x="7" y="667" width="1" height="43"/>
<rect x="15" y="667" width="1" height="48"/>
<rect x="23" y="667" width="1" height="50"/>
<rect x="31" y="667" width="1" height="64"/>
<rect x="39" y="667" width="1" height="73"/>
<rect x="47" y="667" width="1" height="80"/>
<rect x="55" y="667" width="1" height="82"/>
<rect x="63" y="667" width="1" height="80"/>
<rect x="71" y="667" width="1" height="75"/>
<rect x="79" y="667" width="1" height="72"/>
<rect x="87" y="667" width="1" height="71"/>
<rect x="95" y="667" width="1" height="70"/>
<rect x="103" y="667" width="1" height="69"/>
<rect x="111" y="667" width="1" height="63"/>
<rect x="119" y="667" width="1" height="58"/>
<rect x="127" y="667" width="1" height="55"/>
<rect x="135" y="667" width="1" height="50"/>
<rect x="143" y="667" width="1" height="47"/>
<rect x="151" y="667" width="1" height="41"/>
<rect x="159" y="667" width="1" height="46"/>
<rect x="167" y="667" width="1" height="48"/>
<rect x="175" y="667" width="1" height="48"/>
<rect x="183" y="667" width="1" height="47"/>
<rect x="191" y="667" width="1" height="48"/>
<rect x="199" y="667" width="1" height="47"/>
<rect x="207" y="667" width="1" height="39"/>
<rect x="215" y="667" width="1" height="31"/>
<rect x="223" y="667" width="1" height="24"/>
<rect x="231" y="667" width="1" height="14"/>
<rect x="247" y="658" width="1" height="9"/>
<rect x="255" y="653" width="1" height="14"/>
<rect x="263" y="651" width="1" height="16"/>
<rect x="271" y="649" width="1" height="18"/>
<rect x="279" y="646" width="1" height="21"/>
<rect x="287" y="640" width="1" height="27"/>
<rect x="295" y="638" width="1" height="29"/>
<rect x="303" y="633" width="1" height="34"/>
<rect x="311" y="626" width="1" height="41"/>
<rect x="319" y="620" width="1" height="47"/>
<rect x="327" y="611" width="1" height="56"/>
<rect x="335" y="603" width="1" height="64"/>
<rect x="343" y="600" width="1" height="67"/>
<rect x="351" y="599" width="1" height="68"/>
<rect x="359" y="598" width="1" height="69"/>
<rect x="367" y="597" width="1" height="70"/>
<rect x="375" y="597" width="1" height="70"/>
<rect x="383" y="598" width="1" height="69"/>
<rect x="391" y="601" width="1" height="66"/>
<rect x="399" y="604" width="1" height="63"/>
<rect x="407" y="613" width="1" height="54"/>
<rect x="415" y="622" width="1" height="45"/>
<rect x="423" y="629" width="1" height="38"/>
<rect x="431" y="637" width="1" height="30"/>
<rect x="439" y="644" width="1" height="23"/>
<rect x="447" y="651" width="1" height="16"/>
<rect x="455" y="661" width="1" height="6"/>
<rect x="471" y="667" width="1" height="2"/>
<rect x="479" y="667" width="1" height="8"/>
<rect x="487" y="667" width="1" height="16"/>
<rect x="495" y="667" width="1" height="18"/>
<rect x="503" y="667" width="1" height="19"/>
<rect x="511" y="667" width="1" height="19"/>
<rect x="519" y="667" width="1" height="21"/>
<rect x="527" y="667" width="1" height="24"/>
<rect x="535" y="667" width="1" height="28"/>
<rect x="543" y="667" width="1" height="31"/>
<rect x="551" y="667" width="1" height="33"/>
<rect x="559" y="667" width="1" height="32"/>
<rect x="567" y="667" width="1" height="37"/>
<rect x="575" y="667" width="1" height="31"/>
<rect x="583" y="667" width="1" height="29"/>
<rect x="591" y="667" width="1" height="23"/>
<rect x="599" y="667" width="1" height="16"/>
<rect x="607" y="667" width="1" height="10"/>
<rect x="615" y="667" width="1" height="7"/>
<rect x="623" y="667" width="1" height="2"/>
<rect x="631" y="662" width="1" height="5"/>
<rect x="639" y="656" width="1" height="11"/>
<rect x="647" y="653" width="1" height="14"/>
<rect x="655" y="650" width="1" height="17"/>
<rect x="663" y="652" width="1" height="15"/>
<rect x="671" y="654" width="1" height="13"/>
<rect x="679" y="662" width="1" height="5"/>
<rect x="695" y="667" width="1" height="3"/>
<rect x="703" y="667" width="1" height="6"/>
<rect x="711" y="667" width="1" height="12"/>
<rect x="719" y="667" width="1" height="19"/>
<rect x="727" y="667" width="1" height="23"/>
<rect x="735" y="667" width="1" height="25"/>
<rect x="743" y="667" width="1" height="25"/>
<rect x="751" y="667" width="1" height="25"/>
<rect x="759" y="667" width="1" height="33"/>
<rect x="767" y="667" width="1" height="41"/>
<rect x="775" y="667" width="1" height="49"/>
<rect x="783" y="667" width="1" height="55"/>
<rect x="791" y="667" width="1" height="65"/>
<rect x="799" y="667" width="1" height="71"/>
<rect x="807" y="667" width="1" height="71"/>
<rect x="815" y="667" width="1" height="73"/>
<rect x="823" y="667" width="1" height="73"/>
<rect x="831" y="667" width="1" height="71"/>
<rect x="839" y="667" width="1" height="70"/>
<rect x="847" y="667" width="1" height="65"/>
<rect x="855" y="667" width="1" height="66"/>
<rect x="863" y="667" width="1" height="68"/>
<rect x="871" y="667" width="1" height="65"/>
<rect x="879" y="667" width="1" height="55"/>
<rect x="887" y="667" width="1" height="49"/>
<rect x="895" y="667" width="1" height="43"/>
<rect x="903" y="667" width="1" height="34"/>
<rect x="911" y="667" width="1" height="28"/>
<rect x="919" y="667" width="1" height="22"/>
<rect x="927" y="667" width="1" height="20"/>
<rect x="935" y="667" width="1" height="14"/>
<rect x="943" y="667" width="1" height="13"/>
<rect x="951" y="667" width="1" height="18"/>
<rect x="959" y="667" width="1" height="22"/>
<rect x="967" y="667" width="1" height="23"/>
<rect x="975" y="667" width="1" height="28"/>
<rect x="983" y="667" width="1" height="34"/>
<rect x="991" y="667" width="1" height="35"/>
<rect x="999" y="667" width="1" height="40"/>
<rect x="1007" y="667" width="1" height="43"/>
<rect x="1015" y="667" width="1" height="49"/>
<rect x="1023" y="667" width="1" height="55"/>
<rect x="1031" y="667" width="1" height="58"/>
<rect x="1039" y="667" width="1" height="58"/>
<rect x="1047" y="667" width="1" height="55"/>
<rect x="1055" y="667" width="1" height="53"/>
<rect x="1063" y="667" width="1" height="49"/>
<rect x="1071" y="667" width="1" height="45"/>
<rect x="1079" y="667" width="1" height="41"/>
<rect x="1087" y="667" width="1" height="37"/>
<rect x="1095" y="667" width="1" height="31"/>
<rect x="1103" y="667" width="1" height="31"/>
<rect x="1111" y="667" width="1" height="31"/>
<rect x="1119" y="667" width="1" height="30"/>
<rect x="1127" y="667" width="1" height="28"/>
<rect x="1135" y="667" width="1" height="22"/>
<rect x="1143" y="667" width="1" height="19"/>
<rect x="1151" y="667" width="1" height="18"/>
<rect x="1159" y="667" width="1" height="15"/>
<rect x="1167" y="667" width="1" height="13"/>
<rect x="1175" y="667" width="1" height="15"/>
<rect x="1183" y="667" width="1" height="18"/>
<rect x="1191" y="667" width="1" height="22"/>
<rect x="1199" y="667" width="1" height="22"/>
<rect x="1207" y="667" width="1" height="17"/>
<rect x="1215" y="667" width="1" height="11"/>
<rect x="1223" y="667" width="1" height="3"/>
<rect x="1231" y="664" width="1" height="3"/>
<rect x="1239" y="658" width="1" height="9"/>
<rect x="1247" y="654" width="1" height="13"/>
<rect x="1255" y="644" width="1" height="23"/>
<rect x="1263" y="635" width="1" height="32"/>
<rect x="1271" y="626" width="1" height="41"/>
<rect x="1279" y="620" width="1" height="47"/>
<rect x="1287" y="619" width="1" height="48"/>
<rect x="1295" y="616" width="1" height="51"/>
<rect x="1303" y="617" width="1" height="50"/>
<rect x="1311" y="619" width="1" height="48"/>
<rect x="1319" y="621" width="1" height="46"/>
<rect x="1327" y="625" width="1" height="42"/>
<rect x="1335" y="628" width="1" height="39"/>
<rect x="1343" y="631" width="1" height="36"/>
<rect x="1351" y="625" width="1" height="42"/>
<rect x="1359" y="616" width="1" height="51"/>
<rect x="1367" y="613" width="1" height="54"/>
<rect x="1375" y="610" width="1" height="57"/>
<rect x="1383" y="611" width="1" height="56"/>
<rect x="1391" y="614" width="1" height="53"/>
<rect x="1399" y="623" width="1" height="44"/>
<rect x="1407" y="631" width="1" height="36"/>
<rect x="1415" y="633" width="1" height="34"/>
<rect x="1423" y="649" width="1" height="18"/>
</g>
<polyline points="0,669 3.7,671.7 16.6,682.7 31.3,695.6 46,714 62.7,728.8 73.8,734.4 86.7,739.9 103.3,741.7 118,738 134.6,731.6 153,725.1 169.6,719.2 184.4,716.3 199.2,714.1 213.9,712.2 230.5,706.7 243.4,697.5 258.2,682.7 271,671.7 282.1,662.4 296.9,652.3 301,649.5 314,641.2 326.9,634.8 338,627.4 350.9,619.1 363.8,611.7 374.8,604.9 387.7,600.7 400.6,599.4 415.4,602.5 430.1,609 444.9,618.2 459.6,631.1 474.4,645.9 489.1,658.8 502,667.1 516.8,677.2 529.7,682.7 544.5,688.3 559.2,692.9 574,695.6 590,697.3 607.7,694.7 620.6,689.2 631.6,682.7 644.5,675.4 655.6,668 668.5,661 683.3,658.4 692.5,657.5 703.5,658.8 716.5,664.3 729.4,670.7 742.3,679 757,685.5 771.8,694.7 782.8,700.2 797.6,711.3 812.3,720.5 827.1,728.8 841.9,735.3 856.6,737.1 871.3,737.3 884.8,733.4 899.5,726.6 914.3,718.1 927.2,711 938.2,701.5 951.1,694.2 964,690.1 975.1,688.6 991.7,690.1 1004.6,694.7 1017.5,701.5 1030.4,708.2 1045.2,715 1059.9,718.7 1072.8,719.6 1087.6,716.8 1102.3,713.2 1117.1,706.7 1131.9,701.2 1146.6,695.6 1160,692 1174.8,689.2 1189.5,686.8 1202.4,686 1215.3,684.6 1230,680.5 1243,675.4 1255.9,666.1 1270.6,657.8 1281.7,646.8 1292.8,637.6 1303.8,630.2 1314.9,623.7 1326,621.5 1337,620.4 1351.8,621.3 1366.5,620.4 1381.3,619.1 1396,617.8 1410.8,617.6 1420,618.2" fill="none" stroke="#ff0000" stroke-width="1" stroke-dasharray="3,3" shape-rendering="crispEdges"/>
<text x="-5" y="601" font-family="Liberation Sans, sans-serif" font-size="10.5" fill="#000" textLength="128" lengthAdjust="spacingAndGlyphs">MACD(12,26,9) 166.93 265.09</text>
<g fill="#000" font-family="Liberation Sans, sans-serif" font-size="10.5">
<rect x="1651" y="589" width="1" height="1"/>
<text x="1654" y="598" textLength="28" lengthAdjust="spacingAndGlyphs">433.23</text>
<rect x="1651" y="667" width="1" height="1"/>
<text x="1654" y="671" textLength="17" lengthAdjust="spacingAndGlyphs">0.00</text>
<rect x="1651" y="756" width="1" height="1"/>
<text x="1654" y="754" textLength="31" lengthAdjust="spacingAndGlyphs">-491.94</text>
</g>
<g stroke="#c0c0c0" stroke-width="1" stroke-dasharray="3,3">
<line x1="0" y1="795.5" x2="1650" y2="795.5"/>
<line x1="0" y1="846.5" x2="1650" y2="846.5"/>
<line x1="0" y1="907.5" x2="1650" y2="907.5"/>
</g>
<polyline points="0,880.5 8.5,875.4 23.3,867.4 31.4,885.4 40.3,880.1 46.6,881.6 53,876.9 63.6,865.7 72.1,862.5 79.5,863.5 88,870.5 95.4,867.4 103.9,869.5 111.3,856.3 118.7,858.2 127.2,861.4 135.7,854.2 143.1,857.4 151.6,853.2 159,868.4 167.5,868.4 176,863.5 183.4,864.6 191.9,867.4 199.3,865.9 207.8,844 215.2,840.4 222.6,842.3 231.1,833.9 239.6,821.4 247,822.8 256.5,833.9 263.9,838.1 271.4,835.6 278.8,831.7 287.3,826.7 294.7,830.9 305.3,822.4 311.6,818.2 319.1,816.1 327.5,809.5 333.9,808.4 341.3,812.2 351.9,817.1 357.4,815.4 364.8,814.4 373.3,813.3 382.9,813.3 391.3,820.3 399.8,820.3 407.2,845.5 416.8,845.5 423.1,847.6 431.6,853.2 439,854.2 447.5,857.8 456,869.1 463.4,865.2 471.9,854.2 479.3,866.3 487.8,872 496.3,861.4 503.7,860.2 511.1,852.5 519.6,861.4 526,863.5 535.5,869.5 551.4,869.5 558.8,866.3 567.3,876.3 575.8,849.3 583.2,852.5 591.7,841.5 599.1,838.7 606.5,837.3 615,840.4 622.4,835.6 630.9,826.7 639.4,826.7 647.9,831.3 655.3,828.1 663.8,846.2 671.2,844.5 679.7,862.1 688.1,856.3 695.6,857.2 703.2,858.2 711.7,865.9 720.1,870.5 727.6,867.4 735,863.5 743.5,862.1 750.9,860.4 759.4,879 767.8,883.3 776.3,885.4 784.8,889.6 792.2,893.4 798.6,894.5 807.1,876.9 815.5,881.1 823,875.8 831.4,873.7 839.9,877.3 847.3,867.4 854.8,875.8 863.2,879.4 879.1,849.3 887.6,852.5 895,849.3 903.5,841.9 912,844 920.5,845.7 927.9,851.5 935.3,841.3 942.7,849.3 951.2,861 958.6,863.1 967.1,858.9 975.6,868.4 983.7,872 991.5,861 998.9,870.5 1007.4,871.6 1015.9,877.3 1023.3,879 1030.7,874.8 1039.2,873.3 1047.7,866.3 1055.1,863.1 1064.5,860.8 1071.7,857.6 1079,854.7 1087.4,856.4 1095.4,849.2 1103.1,862 1111.6,863.2 1120,858.4 1127.3,856.9 1135,842.4 1143.7,851.1 1151.4,850.4 1159.9,852.3 1167.1,848 1175.6,856.4 1184,866.1 1191.3,869 1199.7,858.8 1208.2,841.5 1216.6,835.9 1223.9,828.2 1231.1,829.1 1239.6,825 1248,830.3 1255.3,815.4 1263.7,812.2 1272.2,810.5 1279.4,809.3 1287.9,824.3 1295.1,818.5 1303.6,826.2 1312,829.1 1319.3,829.1 1327.7,837.1 1335,834.2 1343.4,835.9 1350.7,814.9 1359.1,809.3 1367.6,820.2 1374.8,817.3 1383.3,825.5 1391.7,827.9 1398.9,841.9 1406.2,845.6 1414.6,844.8 1423.1,844.4" fill="none" stroke="#1e90ff" stroke-width="1" shape-rendering="auto"/>
<text x="-5" y="772" font-family="Liberation Sans, sans-serif" font-size="10.5" fill="#000" textLength="68" lengthAdjust="spacingAndGlyphs">RSI(14) 51.3436</text>
<g fill="#000" font-family="Liberation Sans, sans-serif" font-size="10.5">
<text x="1653" y="770" textLength="14" lengthAdjust="spacingAndGlyphs">100</text>
<text x="1653" y="799" textLength="9" lengthAdjust="spacingAndGlyphs">80</text>
<text x="1653" y="850" textLength="9" lengthAdjust="spacingAndGlyphs">50</text>
<text x="1653" y="911" textLength="9" lengthAdjust="spacingAndGlyphs">15</text>
<text x="1653" y="930" textLength="5" lengthAdjust="spacingAndGlyphs">0</text>
</g>
<g fill="#000" font-family="Liberation Sans, sans-serif" font-size="10.6" stroke="#000" stroke-width="0.25">
<text x="-10" y="947" textLength="53.0" lengthAdjust="spacingAndGlyphs">16 Sep 2021</text>
<rect x="55" y="934" width="1" height="4"/>
<text x="54" y="947" textLength="55.6" lengthAdjust="spacingAndGlyphs">21 Sep 05:00</text>
<rect x="119" y="934" width="1" height="4"/>
<text x="118" y="947" textLength="55.6" lengthAdjust="spacingAndGlyphs">28 Sep 05:00</text>
<rect x="183" y="934" width="1" height="4"/>
<text x="182" y="947" textLength="48.3" lengthAdjust="spacingAndGlyphs">5 Oct 05:00</text>
<rect x="247" y="934" width="1" height="4"/>
<text x="246" y="947" textLength="52.8" lengthAdjust="spacingAndGlyphs">11 Oct 05:00</text>
<rect x="311" y="934" width="1" height="4"/>
<text x="310" y="947" textLength="53.5" lengthAdjust="spacingAndGlyphs">19 Oct 01:15</text>
<rect x="375" y="934" width="1" height="4"/>
<text x="374" y="947" textLength="53.5" lengthAdjust="spacingAndGlyphs">25 Oct 01:15</text>
<rect x="439" y="934" width="1" height="4"/>
<text x="438" y="947" textLength="53.5" lengthAdjust="spacingAndGlyphs">29 Oct 01:15</text>
<rect x="503" y="934" width="1" height="4"/>
<text x="502" y="947" textLength="50.4" lengthAdjust="spacingAndGlyphs">4 Nov 01:15</text>
<rect x="567" y="934" width="1" height="4"/>
<text x="566" y="947" textLength="55.6" lengthAdjust="spacingAndGlyphs">10 Nov 01:15</text>
<rect x="631" y="934" width="1" height="4"/>
<text x="630" y="947" textLength="55.6" lengthAdjust="spacingAndGlyphs">16 Nov 01:15</text>
<rect x="695" y="934" width="1" height="4"/>
<text x="694" y="947" textLength="55.6" lengthAdjust="spacingAndGlyphs">22 Nov 01:15</text>
<rect x="759" y="934" width="1" height="4"/>
<text x="758" y="947" textLength="55.6" lengthAdjust="spacingAndGlyphs">26 Nov 01:15</text>
<rect x="823" y="934" width="1" height="4"/>
<text x="822" y="947" textLength="50.4" lengthAdjust="spacingAndGlyphs">2 Dec 01:15</text>
<rect x="887" y="934" width="1" height="4"/>
<text x="886" y="947" textLength="50.4" lengthAdjust="spacingAndGlyphs">8 Dec 01:15</text>
<rect x="951" y="934" width="1" height="4"/>
<text x="950" y="947" textLength="55.6" lengthAdjust="spacingAndGlyphs">14 Dec 01:15</text>
<rect x="1015" y="934" width="1" height="4"/>
<text x="1014" y="947" textLength="55.6" lengthAdjust="spacingAndGlyphs">20 Dec 01:15</text>
<rect x="1079" y="934" width="1" height="4"/>
<text x="1078" y="947" textLength="55.6" lengthAdjust="spacingAndGlyphs">24 Dec 01:15</text>
<rect x="1143" y="934" width="1" height="4"/>
<text x="1142" y="947" textLength="48.9" lengthAdjust="spacingAndGlyphs">3 Jan 01:15</text>
<rect x="1207" y="934" width="1" height="4"/>
<text x="1206" y="947" textLength="48.9" lengthAdjust="spacingAndGlyphs">7 Jan 01:15</text>
<rect x="1271" y="934" width="1" height="4"/>
<text x="1270" y="947" textLength="54.1" lengthAdjust="spacingAndGlyphs">13 Jan 01:15</text>
<rect x="1335" y="934" width="1" height="4"/>
<text x="1334" y="947" textLength="54.1" lengthAdjust="spacingAndGlyphs">19 Jan 01:15</text>
<rect x="1399" y="934" width="1" height="4"/>
<text x="1398" y="947" textLength="54.1" lengthAdjust="spacingAndGlyphs">25 Jan 01:15</text>
</g>
</svg>
<svg width="1698" height="30" viewBox="0 0 1698 30" style="position:absolute;left:0;top:0">
<defs><linearGradient id="btnp" x1="0" y1="0" x2="0" y2="1"><stop offset="0" stop-color="#e6e6e6"/><stop offset="1" stop-color="#f4f4f4"/></linearGradient></defs>
<rect x="0" y="0" width="1698" height="30" fill="#f0f0f0"/>
<rect x="0" y="1" width="1698" height="1" fill="#a0a0a0"/>
<rect x="0" y="2" width="1698" height="1" fill="#ffffff"/>
<rect x="0" y="27" width="1698" height="1" fill="#d8d8d8"/>
<rect x="0" y="28" width="1698" height="1" fill="#9c9c9c"/>
<rect x="0" y="29" width="1698" height="1" fill="#696969"/>
<rect x="11" y="4" width="1" height="22" fill="#a0a0a0"/><rect x="12" y="4" width="1" height="22" fill="#fff"/>
<path d="M0,17 L4,23" stroke="#c9a227" stroke-width="3"/>
<path d="M21.5,8.5 H30 L32.5,11 V21.5 H21.5 Z" fill="#fff" stroke="#707070" stroke-width="1"/>
<path d="M30,8.5 V11 H32.5" fill="#ddd" stroke="#707070" stroke-width="0.8"/>
<path d="M23,11h3M23,14.5h5M23,16.5h4M23,18.5h3" stroke="#9a9a9a" stroke-width="1"/>
<path d="M29.3,14.3 h3.6 v3.7 h3.8 v3.5 h-3.8 v3.8 h-3.6 v-3.8 h-3.8 v-3.5 h3.8 z" fill="#30d030" stroke="#139013" stroke-width="0.9"/>
<text x="40" y="19.5" font-family="Liberation Sans, sans-serif" font-size="13" fill="#000" textLength="65" lengthAdjust="spacingAndGlyphs">New Order</text>
<defs><linearGradient id="bk" x1="0" y1="0" x2="1" y2="1"><stop offset="0" stop-color="#f8e070"/><stop offset="1" stop-color="#d8a818"/></linearGradient><linearGradient id="cu" x1="0" y1="0" x2="1" y2="1"><stop offset="0" stop-color="#60c8ff"/><stop offset="1" stop-color="#1a78e0"/></linearGradient><linearGradient id="ht" x1="0" y1="0" x2="0" y2="1"><stop offset="0" stop-color="#8ac8f0"/><stop offset="1" stop-color="#3a90d0"/></linearGradient></defs>
<path d="M122,9 L132.5,16.5 L125,23.5 L117.5,17.5 Z" fill="url(#bk)" stroke="#a06a10" stroke-width="0.9" stroke-linejoin="round"/>
<path d="M118,18.5 L125,24 L132.8,17.2" fill="none" stroke="#c89030" stroke-width="1.2"/>
<path d="M147,9 L149,7.8 L158,7.8 L158,18 L147,18 Z" fill="url(#cu)" stroke="#1a60c0" stroke-width="0.8"/>
<path d="M150,9.5 v8" stroke="#fff" stroke-width="0.8"/><rect x="152" y="12" width="5" height="2.5" fill="#e8f4ff"/>
<path d="M146.5,23 Q144.5,22.5 145.5,20.3 Q146.5,18.5 148.5,19 Q149.5,16 152.5,16.5 Q155,16.3 156,18.5 Q158.5,18 159.5,20 Q160.5,22.8 158.5,23.2 Z" fill="#eef2fa" stroke="#6a80b0" stroke-width="0.9"/>
<circle cx="181" cy="15.5" r="7.3" fill="none" stroke="#90b8e8" stroke-width="1"/>
<path d="M176.5,11 A6.3,6.3 0 0 0 176.5,20" fill="none" stroke="#4a80d8" stroke-width="1"/>
<path d="M185.5,20.5 A7,7 0 0 0 187.5,12" fill="none" stroke="#58b058" stroke-width="1.3"/>
<circle cx="181" cy="15.5" r="4.3" fill="none" stroke="#6a98e0" stroke-width="1"/>
<circle cx="181" cy="15.5" r="1.8" fill="#2050c8"/>
<path d="M181.3,16 V23.5 H183.5" stroke="#20a020" stroke-width="1.4" fill="none"/>
<path d="M202,14 L215,14 L209,23 Z" fill="#f4dc60" stroke="#c8a030" stroke-width="0.8"/>
<ellipse cx="208" cy="12.5" rx="7.8" ry="2.8" fill="url(#ht)" stroke="#2a78b8" stroke-width="0.8"/>
<ellipse cx="208" cy="10.5" rx="4" ry="3" fill="url(#ht)" stroke="#2a78b8" stroke-width="0.8"/>
<circle cx="212.3" cy="19.5" r="4" fill="#d81818"/><rect x="210.6" y="17.8" width="3.4" height="3.4" fill="#fff"/>
<text x="221" y="19.5" font-family="Liberation Sans, sans-serif" font-size="13" fill="#000" textLength="72" lengthAdjust="spacingAndGlyphs">AutoTrading</text>
<rect x="300" y="4" width="1" height="22" fill="#a0a0a0"/><rect x="301" y="4" width="1" height="22" fill="#fff"/>
<rect x="304" y="6" width="3" height="1" fill="#9a9a9a"/>
<rect x="304" y="8" width="3" height="1" fill="#9a9a9a"/>
<rect x="304" y="10" width="3" height="1" fill="#9a9a9a"/>
<rect x="304" y="12" width="3" height="1" fill="#9a9a9a"/>
<rect x="304" y="14" width="3" height="1" fill="#9a9a9a"/>
<rect x="304" y="16" width="3" height="1" fill="#9a9a9a"/>
<rect x="304" y="18" width="3" height="1" fill="#9a9a9a"/>
<rect x="304" y="20" width="3" height="1" fill="#9a9a9a"/>
<rect x="304" y="22" width="3" height="1" fill="#9a9a9a"/>
<rect x="304" y="24" width="3" height="1" fill="#9a9a9a"/>
<path d="M318.5,10 V23 M316.0,21 H329.5" stroke="#555" stroke-width="1.2" fill="none"/>
<path d="M316.5,12 L318.5,9 L320.5,12 M327.5,19 L330.5,21 L327.5,23" stroke="#555" stroke-width="1" fill="none"/>
<path d="M322,18.5 h2.5 V11.5 h2.5" stroke="#1a9a1a" stroke-width="1.2" fill="none"/>
<rect x="338" y="4" width="26" height="22" fill="#f6f6f6"/>
<rect x="338" y="4" width="26" height="1" fill="#a0a0a0"/><rect x="338" y="4" width="1" height="22" fill="#a0a0a0"/>
<rect x="338" y="25" width="26" height="1" fill="#fff"/><rect x="363" y="4" width="1" height="22" fill="#fff"/>
<path d="M346.5,10 V23 M344.0,21 H357.5" stroke="#555" stroke-width="1.2" fill="none"/>
<path d="M344.5,12 L346.5,9 L348.5,12 M355.5,19 L358.5,21 L355.5,23" stroke="#555" stroke-width="1" fill="none"/>
<path d="M352.5,8 v12" stroke="#107010" stroke-width="1"/><rect x="350.5" y="10.5" width="4" height="7" fill="#30d030" stroke="#107010"/>
<path d="M374.5,10 V23 M372.0,21 H385.5" stroke="#555" stroke-width="1.2" fill="none"/>
<path d="M372.5,12 L374.5,9 L376.5,12 M383.5,19 L386.5,21 L383.5,23" stroke="#555" stroke-width="1" fill="none"/>
<path d="M373,18.5 Q379,9 384.5,17" stroke="#2a9a2a" stroke-width="1.2" fill="none"/>
<rect x="395" y="4" width="1" height="22" fill="#a0a0a0"/><rect x="396" y="4" width="1" height="22" fill="#fff"/>
<circle cx="410" cy="14" r="5.5" fill="#d8ecfa" stroke="#3a7ac0" stroke-width="1.5"/><path d="M407,14h6M410,11v6" stroke="#2a60b0" stroke-width="1.5"/>
<path d="M414,18 L419,23" stroke="#c8a030" stroke-width="2.5"/>
<circle cx="438" cy="14" r="5.5" fill="#d8ecfa" stroke="#3a7ac0" stroke-width="1.5"/><path d="M435,14h6" stroke="#2a60b0" stroke-width="1.5"/>
<path d="M442,18 L447,23" stroke="#c8a030" stroke-width="2.5"/>
<rect x="460" y="8" width="8" height="7" fill="#30a030"/><rect x="468" y="8" width="8" height="7" fill="#2a5ad0"/><rect x="460" y="15" width="8" height="8" fill="#2a5ad0"/><rect x="468" y="15" width="8" height="8" fill="#30a030"/>
<path d="M461,12h6M469,12h6M461,19h6M469,19h6" stroke="#fff" stroke-width="1"/>
<rect x="485" y="4" width="1" height="22" fill="#a0a0a0"/><rect x="486" y="4" width="1" height="22" fill="#fff"/>
<rect x="490" y="4" width="25" height="22" fill="#f6f6f6"/>
<rect x="490" y="4" width="25" height="1" fill="#a0a0a0"/><rect x="490" y="4" width="1" height="22" fill="#a0a0a0"/>
<rect x="490" y="25" width="25" height="1" fill="#fff"/><rect x="514" y="4" width="1" height="22" fill="#fff"/>
<path d="M498.5,10 V23 M496.0,21 H509.5" stroke="#555" stroke-width="1.2" fill="none"/>
<path d="M496.5,12 L498.5,9 L500.5,12 M507.5,19 L510.5,21 L507.5,23" stroke="#555" stroke-width="1" fill="none"/>
<path d="M504.5,12 L508,15.5 L504.5,19 Z" fill="#30d030" stroke="#118811" stroke-width="0.8"/>
<rect x="518" y="4" width="25" height="22" fill="#f6f6f6"/>
<rect x="518" y="4" width="25" height="1" fill="#a0a0a0"/><rect x="518" y="4" width="1" height="22" fill="#a0a0a0"/>
<rect x="518" y="25" width="25" height="1" fill="#fff"/><rect x="542" y="4" width="1" height="22" fill="#fff"/>
<path d="M526.5,10 V23 M524.0,21 H537.5" stroke="#555" stroke-width="1.2" fill="none"/>
<path d="M524.5,12 L526.5,9 L528.5,12 M535.5,19 L538.5,21 L535.5,23" stroke="#555" stroke-width="1" fill="none"/>
<path d="M532.5,10v10" stroke="#2a70c0" stroke-width="1.2"/><path d="M539,15.5h-5M534,15.5l2.5,-2.5M534,15.5l2.5,2.5" stroke="#e05010" stroke-width="1.3" fill="none"/>
<rect x="547" y="4" width="1" height="22" fill="#a0a0a0"/><rect x="548" y="4" width="1" height="22" fill="#fff"/>
<path d="M557.5,8.5 H565 L567.5,11 V21.5 H557.5 Z" fill="#fff" stroke="#707070"/>
<text x="559" y="19" font-family="Liberation Serif, serif" font-size="10" font-style="italic" fill="#555">f</text>
<path d="M564.3,15.3 h3.6 v3.7 h3.8 v3.5 h-3.8 v3.8 h-3.6 v-3.8 h-3.8 v-3.5 h3.8 z" fill="#30d030" stroke="#139013" stroke-width="0.9"/>
<path d="M579,15h5l-2.5,3z" fill="#000"/>
<circle cx="603" cy="15.5" r="7.5" fill="#1a60c8"/><circle cx="603" cy="15.5" r="5.3" fill="#f4f8ff" stroke="#90b0e0" stroke-width="0.6"/><path d="M603,11.5v4h2.5" stroke="#333" stroke-width="1" fill="none"/>
<path d="M618,15h5l-2.5,3z" fill="#000"/>
<rect x="634.5" y="9.5" width="15" height="13" fill="#fff" stroke="#3a70c0"/><rect x="635" y="10" width="14" height="2" fill="#5a90d8"/>
<path d="M636,15 l3,-1 3,1 3,-1 3,0" stroke="#b03020" fill="none"/><path d="M636,20 l3,-1 3,1 3,-2 3,1" stroke="#20a020" fill="none"/><path d="M635,17h14" stroke="#3a70c0"/>
<path d="M657,15h5l-2.5,3z" fill="#000"/>
<rect x="668" y="3" width="1" height="24" fill="#a0a0a0"/><rect x="669" y="3" width="1" height="24" fill="#fff"/>
<rect x="672" y="6" width="3" height="1" fill="#9a9a9a"/>
<rect x="672" y="8" width="3" height="1" fill="#9a9a9a"/>
<rect x="672" y="10" width="3" height="1" fill="#9a9a9a"/>
<rect x="672" y="12" width="3" height="1" fill="#9a9a9a"/>
<rect x="672" y="14" width="3" height="1" fill="#9a9a9a"/>
<rect x="672" y="16" width="3" height="1" fill="#9a9a9a"/>
<rect x="672" y="18" width="3" height="1" fill="#9a9a9a"/>
<rect x="672" y="20" width="3" height="1" fill="#9a9a9a"/>
<rect x="672" y="22" width="3" height="1" fill="#9a9a9a"/>
<rect x="672" y="24" width="3" height="1" fill="#9a9a9a"/>
<rect x="678" y="4" width="25" height="22" fill="#f6f6f6"/>
<rect x="678" y="4" width="25" height="1" fill="#a0a0a0"/><rect x="678" y="4" width="1" height="22" fill="#a0a0a0"/>
<rect x="678" y="25" width="25" height="1" fill="#fff"/><rect x="702" y="4" width="1" height="22" fill="#fff"/>
<path d="M686,9 L686,21 L689,18 L692,23 L694,22 L691,17 L695,17 Z" fill="#333"/>
<path d="M711,16.5h15M718.5,9v15" stroke="#555" stroke-width="1" shape-rendering="crispEdges"/>
<rect x="735" y="4" width="1" height="22" fill="#a0a0a0"/><rect x="736" y="4" width="1" height="22" fill="#fff"/>
<rect x="752" y="10" width="1" height="12" fill="#555"/>
<rect x="775" y="16" width="12" height="1" fill="#555"/>
<path d="M803,22 L816,10" stroke="#555" stroke-width="1"/>
<path d="M829,17.5 L842,8.5 M832,22.5 L843.5,14" stroke="#555" stroke-width="1.1" fill="none"/>
<path d="M831,14v5M834.5,12v5M838,9.5v5M841,8v4" stroke="#555" stroke-width="0.9"/>
<text x="839.5" y="25" font-family="Liberation Sans, sans-serif" font-size="7.5" font-weight="bold" fill="#444">E</text>
<path d="M858,9.5h13M858,12.5h13M858,16.5h13M858,20.5h9" stroke="#666" stroke-width="1" stroke-dasharray="1,1" shape-rendering="crispEdges"/>
<text x="867.5" y="25" font-family="Liberation Sans, sans-serif" font-size="7.5" font-weight="bold" fill="#444">F</text>
<text x="888.5" y="20.8" font-family="Liberation Sans, sans-serif" font-size="11.5" font-weight="bold" fill="#505050" textLength="8.5" lengthAdjust="spacingAndGlyphs">A</text>
<rect x="914.5" y="9.5" width="12" height="13" fill="none" stroke="#666" stroke-dasharray="1,1" shape-rendering="crispEdges"/>
<path d="M917,14h7M920.5,14v7" stroke="#505050" stroke-width="1.6"/>
<path d="M942.5,12.2 L946,10 L949.7,12.2 L946,14.4Z M949.7,20.4 L953,18.3 L956.3,20.4 L953,22.6Z" fill="#444"/><path d="M945.5,16.5 l2,2 l3,-3" stroke="#444" stroke-width="1" fill="none"/>
<path d="M963,15h5l-2.5,3z" fill="#000"/>
<rect x="974" y="3" width="1" height="24" fill="#a0a0a0"/><rect x="975" y="3" width="1" height="24" fill="#fff"/>
<rect x="978" y="6" width="3" height="1" fill="#9a9a9a"/>
<rect x="978" y="8" width="3" height="1" fill="#9a9a9a"/>
<rect x="978" y="10" width="3" height="1" fill="#9a9a9a"/>
<rect x="978" y="12" width="3" height="1" fill="#9a9a9a"/>
<rect x="978" y="14" width="3" height="1" fill="#9a9a9a"/>
<rect x="978" y="16" width="3" height="1" fill="#9a9a9a"/>
<rect x="978" y="18" width="3" height="1" fill="#9a9a9a"/>
<rect x="978" y="20" width="3" height="1" fill="#9a9a9a"/>
<rect x="978" y="22" width="3" height="1" fill="#9a9a9a"/>
<rect x="978" y="24" width="3" height="1" fill="#9a9a9a"/>
<text x="990" y="20" font-family="Liberation Sans, sans-serif" font-size="10" fill="#222" textLength="12.5" lengthAdjust="spacingAndGlyphs">M1</text>
<text x="1018" y="20" font-family="Liberation Sans, sans-serif" font-size="10" fill="#222" textLength="12.5" lengthAdjust="spacingAndGlyphs">M5</text>
<text x="1043.7" y="20" font-family="Liberation Sans, sans-serif" font-size="10" fill="#222" textLength="17.5" lengthAdjust="spacingAndGlyphs">M15</text>
<text x="1071.4" y="20" font-family="Liberation Sans, sans-serif" font-size="10" fill="#222" textLength="17.5" lengthAdjust="spacingAndGlyphs">M30</text>
<text x="1102.7" y="20" font-family="Liberation Sans, sans-serif" font-size="10" fill="#222" textLength="11.7" lengthAdjust="spacingAndGlyphs">H1</text>
<rect x="1124" y="4" width="26" height="22" fill="#f6f6f6"/>
<rect x="1124" y="4" width="26" height="1" fill="#a0a0a0"/><rect x="1124" y="4" width="1" height="22" fill="#a0a0a0"/>
<rect x="1124" y="25" width="26" height="1" fill="#fff"/><rect x="1149" y="4" width="1" height="22" fill="#fff"/>
<text x="1129.5" y="20" font-family="Liberation Sans, sans-serif" font-size="10" fill="#222" textLength="12.5" lengthAdjust="spacingAndGlyphs">H4</text>
<text x="1158.4" y="20" font-family="Liberation Sans, sans-serif" font-size="10" fill="#222" textLength="12" lengthAdjust="spacingAndGlyphs">D1</text>
<text x="1186.5" y="20" font-family="Liberation Sans, sans-serif" font-size="10" fill="#222" textLength="14" lengthAdjust="spacingAndGlyphs">W1</text>
<text x="1212.5" y="20" font-family="Liberation Sans, sans-serif" font-size="10" fill="#222" textLength="15" lengthAdjust="spacingAndGlyphs">MN</text>
<rect x="1235" y="3" width="1" height="24" fill="#a0a0a0"/><rect x="1236" y="3" width="1" height="24" fill="#fff"/>
<circle cx="1652.5" cy="13.3" r="3.8" fill="#fff" stroke="#2a60d0" stroke-width="1.6"/><path d="M1649.8,16 L1645.5,20.5" stroke="#2a60d0" stroke-width="2.2"/>
<ellipse cx="1675" cy="18" rx="6" ry="4.5" fill="#dde" stroke="#aaa"/><path d="M1672,22 L1671,25 L1675,22" fill="#bbb"/>
<circle cx="1683.6" cy="13.3" r="8" fill="#e03a20"/>
<text x="1683.6" y="18" text-anchor="middle" font-family="Liberation Serif, serif" font-size="13" font-weight="bold" fill="#fff">1</text>
</svg>
<svg width="214" height="110" viewBox="0 0 214 110" style="position:absolute;left:0;top:0;" >
<defs>
<linearGradient id="rt" x1="0" y1="0" x2="0" y2="1"><stop offset="0" stop-color="#f65a5a"/><stop offset="1" stop-color="#e52c2c"/></linearGradient>
<linearGradient id="rb" x1="0" y1="0" x2="0" y2="1"><stop offset="0" stop-color="#e23333"/><stop offset="1" stop-color="#b20606"/></linearGradient>
<linearGradient id="gb" x1="0" y1="0" x2="0" y2="1"><stop offset="0" stop-color="#f2f2f2"/><stop offset="0.45" stop-color="#e2e2e2"/><stop offset="0.5" stop-color="#d6d6d6"/><stop offset="1" stop-color="#d2d2d2"/></linearGradient>
</defs>
<rect x="0" y="52" width="46" height="25" fill="url(#rt)"/>
<rect x="0" y="52" width="46" height="1" fill="#c01010"/>
<rect x="0" y="75" width="42" height="1" fill="#f08a8a"/>
<text x="6" y="67.5" font-family="Liberation Sans, sans-serif" font-size="12" fill="#fff" textLength="26" lengthAdjust="spacingAndGlyphs">SELL</text>
<rect x="46" y="52" width="115" height="24" fill="#fff"/>
<rect x="48.5" y="52.5" width="110" height="21" fill="#fff" stroke="#a9a9b2"/>
<rect x="49" y="53" width="20" height="20" fill="url(#gb)"/>
<rect x="69" y="53" width="1" height="20" fill="#b8b8c0"/>
<rect x="138" y="53" width="20" height="20" fill="url(#gb)"/>
<rect x="137" y="53" width="1" height="20" fill="#b8b8c0"/>
<path d="M56,61.5h6l-3,3z" fill="#5060c8"/>
<path d="M145,64.5h6l-3,-3z" fill="#5060c8"/>
<text x="134" y="67" text-anchor="end" font-family="Liberation Sans, sans-serif" font-size="12" fill="#000" textLength="24" lengthAdjust="spacingAndGlyphs">1.00</text>
<rect x="161" y="52" width="53" height="25" fill="url(#rt)"/>
<rect x="161" y="52" width="53" height="1" fill="#c01010"/>
<rect x="165" y="75" width="45" height="1" fill="#f08a8a"/>
<text x="174" y="67.5" font-family="Liberation Sans, sans-serif" font-size="12" fill="#fff" textLength="24" lengthAdjust="spacingAndGlyphs">BUY</text>
<rect x="0" y="76" width="103" height="33" fill="url(#rb)"/>
<rect x="105" y="76" width="109" height="33" fill="url(#rb)"/>
<rect x="46" y="76" width="57" height="1" fill="#b80c0c"/>
<rect x="105" y="76" width="56" height="1" fill="#b80c0c"/>
<text x="10" y="104" font-family="Liberation Sans, sans-serif" font-size="12" font-weight="bold" fill="#fff" textLength="34" lengthAdjust="spacingAndGlyphs">24253</text>
<circle cx="51.8" cy="102" r="2" fill="#fff"/>
<text x="56" y="104" font-family="Liberation Sans, sans-serif" font-size="33" fill="#fff" textLength="16" lengthAdjust="spacingAndGlyphs">5</text>
<text x="120" y="104" font-family="Liberation Sans, sans-serif" font-size="12" font-weight="bold" fill="#fff" textLength="35" lengthAdjust="spacingAndGlyphs">24266</text>
<circle cx="162.3" cy="102" r="2" fill="#fff"/>
<text x="167" y="104" font-family="Liberation Sans, sans-serif" font-size="33" fill="#fff" textLength="16" lengthAdjust="spacingAndGlyphs">5</text>
</svg>
</body></html>
